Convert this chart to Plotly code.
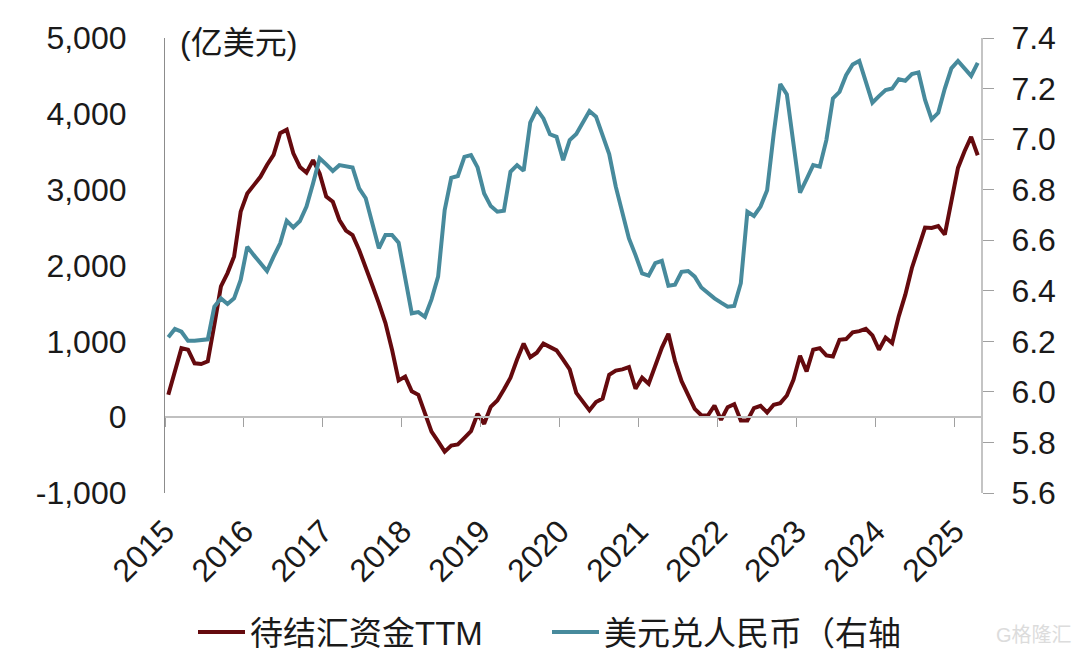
import plotly.graph_objects as go

# 待结汇资金TTM, 亿美元, 2015-01 .. 2025-04 monthly
funds = [295, 600, 910, 890, 710, 700, 735, 1220, 1725, 1900, 2120, 2710,
         2950, 3060, 3170, 3325, 3460, 3745, 3790, 3480, 3300, 3225, 3390, 3215,
         2910, 2840, 2600, 2460, 2400, 2205, 1985, 1740, 1500, 1240, 890, 485,
         535, 340, 295, 55, -190, -320, -455, -375, -360, -273, -185, 45,
         -88, 136, 220, 365, 520, 760, 970, 790, 850, 970, 930, 880,
         760, 630, 320, 210, 90, 200, 245, 560, 615, 630, 660, 375,
         520, 440, 670, 915, 1100, 740, 475, 300, 110, 26, 22, 154,
         -35, 132, 172, -44, -44, 119, 150, 62, 163, 185, 286, 493,
         810, 603, 889, 910, 814, 800, 1020, 1030, 1118, 1135, 1166, 1078,
         889, 1050, 977, 1330, 1615, 1967, 2250, 2500, 2495, 2520, 2407, 2870,
         3287, 3507, 3696, 3454]

# 美元兑人民币
usdcny = [6.216, 6.249, 6.238, 6.202, 6.202, 6.204, 6.208, 6.337, 6.370, 6.348, 6.370, 6.443,
          6.574, 6.541, 6.508, 6.478, 6.535, 6.588, 6.677, 6.651, 6.676, 6.733, 6.825, 6.924,
          6.900, 6.874, 6.897, 6.891, 6.888, 6.805, 6.766, 6.667, 6.568, 6.621, 6.621, 6.590,
          6.443, 6.311, 6.316, 6.297, 6.366, 6.456, 6.719, 6.847, 6.854, 6.930, 6.937, 6.888,
          6.785, 6.735, 6.713, 6.717, 6.871, 6.897, 6.875, 7.065, 7.118, 7.082, 7.019, 7.009,
          6.917, 6.996, 7.020, 7.069, 7.111, 7.089, 7.016, 6.941, 6.812, 6.713, 6.607, 6.541,
          6.469, 6.460, 6.509, 6.518, 6.420, 6.424, 6.475, 6.478, 6.456, 6.413, 6.390, 6.370,
          6.353, 6.337, 6.340, 6.430, 6.713, 6.696, 6.733, 6.798, 7.021, 7.218, 7.177, 6.977,
          6.788, 6.842, 6.897, 6.891, 6.996, 7.161, 7.187, 7.253, 7.295, 7.309, 7.227, 7.144,
          7.170, 7.194, 7.200, 7.237, 7.231, 7.257, 7.264, 7.155, 7.078, 7.104, 7.200, 7.280,
          7.309, 7.280, 7.250, 7.302]

years = ["2015", "2016", "2017", "2018", "2019", "2020", "2021", "2022", "2023", "2024", "2025"]
left_ticks = [-1000, 0, 1000, 2000, 3000, 4000, 5000]
left_labels = ["-1,000", "0", "1,000", "2,000", "3,000", "4,000", "5,000"]
right_ticks = [5.6, 5.8, 6.0, 6.2, 6.4, 6.6, 6.8, 7.0, 7.2, 7.4]

FONT = "Liberation Sans, Noto Sans CJK SC"
W, H = 1080, 653
dom_x = [165 / W, 981 / W]
dom_y = [1 - 493 / H, 1 - 38 / H]
months = list(range(len(funds)))
x_range = [-0.5, len(funds) - 0.5]
year_edges = [-0.5 + 12 * i for i in range(len(years))]

fig = go.Figure()
fig.add_trace(go.Scatter(x=months, y=funds, name="待结汇资金TTM", mode="lines",
                         line=dict(color="#650a0e", width=4), xaxis="x", yaxis="y"))
fig.add_trace(go.Scatter(x=months, y=usdcny, name="美元兑人民币（右轴）", mode="lines",
                         line=dict(color="#478a9c", width=4), xaxis="x2", yaxis="y2"))

zero_pos = dom_y[0] + (dom_y[1] - dom_y[0]) * 1000 / 6000
fig.update_layout(
    template="none",
    width=W, height=H,
    margin=dict(l=0, r=0, t=0, b=0, autoexpand=False),
    paper_bgcolor="white", plot_bgcolor="white",
    font=dict(family=FONT, size=32, color="#1a1a1a"),
    # tick marks sit on the zero line, labels stay at the bottom
    xaxis=dict(domain=dom_x, range=x_range, anchor="free", position=zero_pos, automargin=False,
               tickvals=year_edges, ticks="outside", ticklen=9, tickwidth=1, tickcolor="#a0a0a0",
               showticklabels=False, showline=True, linecolor="#c0c0c0", linewidth=1.5,
               showgrid=False, zeroline=False),
    xaxis2=dict(domain=dom_x, range=x_range, overlaying="x", anchor="y2", side="bottom", automargin=False,
                tickvals=year_edges, ticktext=years, tickangle=-45, ticks="",
                ticklabelstandoff=12,
                showline=False, showgrid=False, zeroline=False),
    yaxis=dict(domain=dom_y, range=[-1000, 5000], anchor="x", side="left", automargin=False,
               tickvals=left_ticks, ticktext=left_labels, ticks="", ticklabelstandoff=31,
               showline=True, linecolor="#8c8c8c", linewidth=1.2,
               showgrid=False, zeroline=False),
    yaxis2=dict(domain=dom_y, range=[5.6, 7.4], overlaying="y", anchor="x2", side="right", automargin=False,
                tickvals=right_ticks, tickformat=".1f", ticks="outside", ticklen=11,
                tickwidth=1, tickcolor="#a0a0a0", ticklabelstandoff=11,
                showline=True, linecolor="#c4c4c4", linewidth=2,
                showgrid=False, zeroline=False),
    legend=dict(orientation="h", x=193 / W, y=1 - 632 / H, xanchor="left", yanchor="middle",
                font=dict(size=33), itemwidth=47, entrywidth=292, entrywidthmode="pixels",
                bgcolor="rgba(0,0,0,0)"),
)
fig.add_annotation(text="(亿美元)", xref="paper", yref="paper", x=178 / W, y=1 - 43 / H,
                   xanchor="left", yanchor="middle", showarrow=False)
fig.add_annotation(text="G格隆汇", xref="paper", yref="paper", x=1074 / W, y=1 - 635 / H,
                   xanchor="right", yanchor="middle", showarrow=False,
                   font=dict(size=20, color="#dcdcdc"))

# default page margin would shift the whole chart by 8px
fig.write_html("out.html", post_script="document.body.style.margin='0';",
               config=dict(displayModeBar=False))
